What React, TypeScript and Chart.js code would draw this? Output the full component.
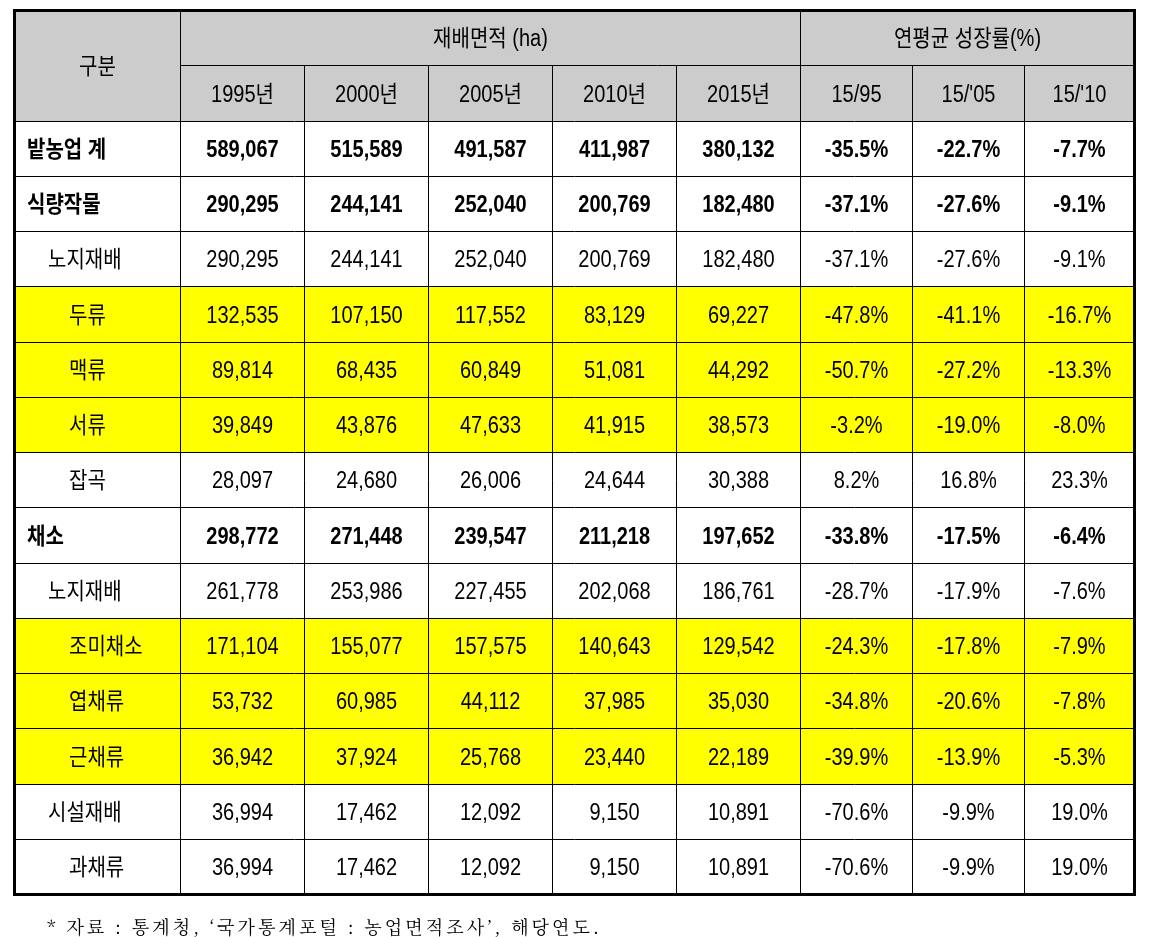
import React, { useEffect, useRef } from "react";
import { Chart, registerables } from "chart.js";

Chart.register(...registerables);

// ---------- data ----------
const areaTitle = "재배면적 (ha)";
const growthTitle = "연평균 성장률(%)";
const cornerLabel = "구분";
const years = ["1995년", "2000년", "2005년", "2010년", "2015년"];
const growthLabels = ["15/95", "15/'05", "15/'10"];
const categories = [
  "밭농업 계", "식량작물", "노지재배", "두류", "맥류", "서류", "잡곡",
  "채소", "노지재배", "조미채소", "엽채류", "근채류", "시설재배", "과채류",
];
const levels = [0, 0, 1, 2, 2, 2, 2, 0, 1, 2, 2, 2, 1, 2];
const highlighted = [false, false, false, true, true, true, false, false, false, true, true, true, false, false];

const area1995 = [589067, 290295, 290295, 132535, 89814, 39849, 28097, 298772, 261778, 171104, 53732, 36942, 36994, 36994];
const area2000 = [515589, 244141, 244141, 107150, 68435, 43876, 24680, 271448, 253986, 155077, 60985, 37924, 17462, 17462];
const area2005 = [491587, 252040, 252040, 117552, 60849, 47633, 26006, 239547, 227455, 157575, 44112, 25768, 12092, 12092];
const area2010 = [411987, 200769, 200769, 83129, 51081, 41915, 24644, 211218, 202068, 140643, 37985, 23440, 9150, 9150];
const area2015 = [380132, 182480, 182480, 69227, 44292, 38573, 30388, 197652, 186761, 129542, 35030, 22189, 10891, 10891];
const growth15over95 = [-35.5, -37.1, -37.1, -47.8, -50.7, -3.2, 8.2, -33.8, -28.7, -24.3, -34.8, -39.9, -70.6, -70.6];
const growth15over05 = [-22.7, -27.6, -27.6, -41.1, -27.2, -19.0, 16.8, -17.5, -17.9, -17.8, -20.6, -13.9, -9.9, -9.9];
const growth15over10 = [-7.7, -9.1, -9.1, -16.7, -13.3, -8.0, 23.3, -6.4, -7.6, -7.9, -7.8, -5.3, 19.0, 19.0];

const footnote = "* 자료 : 통계청, ‘국가통계포털 : 농업면적조사’, 해당연도.";

// ---------- layout / style ----------
const COL_WIDTHS = [166, 124, 124, 124, 124, 124, 112, 112, 110];
const HEADER_ROWS = 2;
const INDENTS = [12.5, 33.5, 54.5];
const HEADER_BG = "#cccccc";
const HIGHLIGHT_BG = "#ffff00";
const FONT_FAMILY = '"Liberation Sans", "Noto Sans CJK KR", sans-serif';
const FONT_SIZE = 23;
const X_SCALE = 0.87;

const areaSeries = [area1995, area2000, area2005, area2010, area2015];
const growthSeries = [growth15over95, growth15over05, growth15over10];

const fmtArea = (v: number) => v.toLocaleString("en-US");
const fmtGrowth = (v: number) => v.toFixed(1) + "%";

function drawText(
  ctx: CanvasRenderingContext2D,
  text: string,
  x: number,
  yCenter: number,
  align: "left" | "center",
  bold: boolean
) {
  ctx.save();
  ctx.font = `${bold ? "bold " : ""}${FONT_SIZE}px ${FONT_FAMILY}`;
  ctx.textBaseline = "alphabetic";
  ctx.textAlign = "left";
  ctx.fillStyle = "#000000";
  const w = ctx.measureText(text).width * X_SCALE;
  const left = align === "center" ? x - w / 2 : x;
  ctx.translate(left, yCenter + FONT_SIZE * 0.36);
  ctx.scale(X_SCALE, 1);
  ctx.fillText(text, 0, 0);
  ctx.restore();
}

const crisp = (v: number) => Math.round(v - 0.5) + 0.5;

const tablePlugin = {
  id: "tablePlugin",
  afterDraw(chart: any) {
    const ctx: CanvasRenderingContext2D = chart.ctx;
    const xs = chart.scales.x;
    const ys = chart.scales.y;
    const edges: number[] = [0];
    COL_WIDTHS.forEach((w) => edges.push(edges[edges.length - 1] + w));
    const cx = (k: number) => xs.getPixelForValue(edges[k]);
    const ry = (r: number) => ys.getPixelForValue(r);
    const nRows = HEADER_ROWS + categories.length;
    const nCols = COL_WIDTHS.length;
    const left = cx(0), right = cx(nCols), top = ry(0), bottom = ry(nRows);

    ctx.save();
    // backgrounds
    ctx.fillStyle = HEADER_BG;
    ctx.fillRect(left, top, right - left, ry(HEADER_ROWS) - top);
    highlighted.forEach((h, i) => {
      if (!h) return;
      ctx.fillStyle = HIGHLIGHT_BG;
      const y0 = ry(HEADER_ROWS + i), y1 = ry(HEADER_ROWS + i + 1);
      ctx.fillRect(left, y0, right - left, y1 - y0);
    });

    // grid lines
    ctx.strokeStyle = "#000000";
    ctx.lineWidth = 1;
    ctx.beginPath();
    for (let k = 1; k < nCols; k++) {
      const x = crisp(cx(k));
      const yStart = k === 1 || k === 6 ? top : ry(1);
      ctx.moveTo(x, yStart);
      ctx.lineTo(x, bottom);
    }
    {
      const y = crisp(ry(1));
      ctx.moveTo(cx(1), y);
      ctx.lineTo(right, y);
    }
    for (let r = 2; r < nRows; r++) {
      const y = crisp(ry(r));
      ctx.moveTo(left, y);
      ctx.lineTo(right, y);
    }
    ctx.stroke();

    // outer border
    ctx.lineWidth = 3;
    ctx.strokeRect(left, top, right - left, bottom - top);
    ctx.restore();

    // header texts
    const mid = (a: number, b: number) => (a + b) / 2;
    drawText(ctx, cornerLabel, mid(cx(0), cx(1)), mid(ry(0), ry(2)), "center", false);
    drawText(ctx, areaTitle, mid(cx(1), cx(6)), mid(ry(0), ry(1)), "center", false);
    drawText(ctx, growthTitle, mid(cx(6), cx(9)), mid(ry(0), ry(1)), "center", false);
    years.forEach((y, j) => drawText(ctx, y, mid(cx(1 + j), cx(2 + j)), mid(ry(1), ry(2)), "center", false));
    growthLabels.forEach((g, j) => drawText(ctx, g, mid(cx(6 + j), cx(7 + j)), mid(ry(1), ry(2)), "center", false));

    // body
    categories.forEach((cat, i) => {
      const yc = mid(ry(HEADER_ROWS + i), ry(HEADER_ROWS + i + 1));
      const bold = levels[i] === 0;
      drawText(ctx, cat, cx(0) + INDENTS[levels[i]], yc, "left", bold);
      areaSeries.forEach((s, j) => drawText(ctx, fmtArea(s[i]), mid(cx(1 + j), cx(2 + j)), yc, "center", bold));
      growthSeries.forEach((s, j) => drawText(ctx, fmtGrowth(s[i]), mid(cx(6 + j), cx(7 + j)), yc, "center", bold));
    });

    // footnote
    ctx.save();
    ctx.font = '18px "Noto Serif CJK KR", "DejaVu Serif", "Noto Sans CJK KR", serif';
    ctx.fillStyle = "#000000";
    ctx.textBaseline = "alphabetic";
    ctx.textAlign = "left";
    const targetW = 550;
    const chars = Array.from(footnote);
    const baseW = ctx.measureText(footnote).width;
    const spacing = (targetW - baseW) / (chars.length - 1);
    let x = left + 32.5;
    const yBase = bottom + 39;
    chars.forEach((ch) => {
      ctx.fillText(ch, x, yBase);
      x += ctx.measureText(ch).width + spacing;
    });
    ctx.restore();
  },
};

export default function App() {
  const canvasRef = useRef<HTMLCanvasElement | null>(null);

  useEffect(() => {
    const canvas = canvasRef.current;
    if (!canvas) return;
    const total = COL_WIDTHS.reduce((a, b) => a + b, 0);
    const chart = new Chart(canvas, {
      type: "scatter",
      data: { datasets: [] },
      options: {
        responsive: false,
        animation: false,
        layout: { padding: { left: 14.5, top: 10.5, right: 22.5, bottom: 42.5 } },
        plugins: {
          legend: { display: false },
          tooltip: { enabled: false },
          title: { display: false },
        },
        scales: {
          x: { type: "linear", min: 0, max: total, display: false },
          y: { type: "linear", min: 0, max: HEADER_ROWS + categories.length, reverse: true, display: false },
        },
      },
      plugins: [tablePlugin],
    } as any);
    return () => chart.destroy();
  }, []);

  return (
    <div style={{ position: "absolute", left: 0, top: 0, width: 1157, height: 937, background: "#ffffff" }}>
      <canvas ref={canvasRef} width={1157} height={937} style={{ display: "block" }} />
    </div>
  );
}
